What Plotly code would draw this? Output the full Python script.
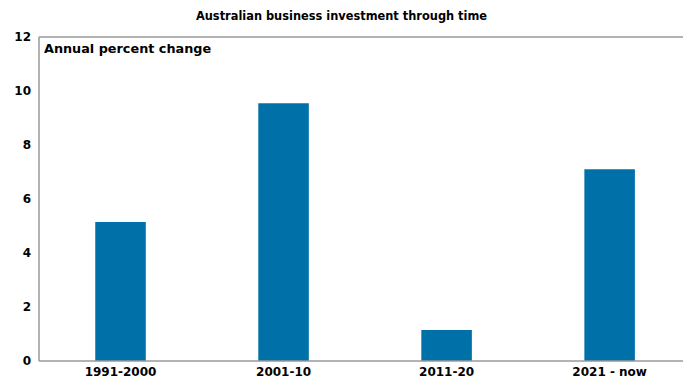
import plotly.graph_objects as go

categories = ["1991-2000", "2001-10", "2011-20", "2021 - now"]
values = [5.15, 9.55, 1.15, 7.1]
y_ticks = [0, 2, 4, 6, 8, 10, 12]

bar_color = "#0070A8"
axis_color = "#9a9a9a"
font_family = "DejaVu Sans, Verdana, sans-serif"

fig = go.Figure()
fig.add_trace(go.Bar(
    x=list(range(len(categories))),
    y=values,
    marker=dict(color=bar_color, line=dict(width=0)),
    width=0.31,
))

border = dict(color=axis_color, width=1.5)

fig.update_layout(
    width=683,
    height=380,
    margin=dict(l=39, r=0, t=37, b=19, pad=0, autoexpand=False),
    paper_bgcolor="white",
    plot_bgcolor="white",
    showlegend=False,
    title=dict(
        text="<b>Australian business investment through time</b>",
        x=0.5, xanchor="center",
        y=1 - 16 / 380, yanchor="middle",
        font=dict(family=font_family, size=11.4, color="#000"),
    ),
    font=dict(family=font_family, size=12, color="#000"),
    xaxis=dict(
        range=[-0.5, 3.45],
        tickmode="array",
        tickvals=list(range(len(categories))),
        ticktext=[f"<b>{c}</b>" for c in categories],
        showline=False, mirror=False,
        showgrid=False, zeroline=False, ticks="", ticklabelstandoff=2,
        tickfont=dict(size=12, family=font_family, color="#000"),
        fixedrange=True, automargin=False,
    ),
    yaxis=dict(
        range=[0, 12],
        tickmode="array",
        tickvals=y_ticks,
        ticktext=[f"<b>{t}</b>" for t in y_ticks],
        showline=False, mirror=False,
        showgrid=False, zeroline=False, ticks="", ticklabelstandoff=7,
        tickfont=dict(size=12, family=font_family, color="#000"),
        fixedrange=True, automargin=False,
    ),
    shapes=[
        dict(type="line", xref="paper", yref="paper", x0=0, x1=1, y0=1, y1=1, line=border),
        dict(type="line", xref="paper", yref="paper", x0=0, x1=1, y0=0, y1=0, line=border),
        dict(type="line", xref="paper", yref="paper", x0=0, x1=0, y0=0, y1=1, line=border),
    ],
    annotations=[dict(
        text="<b>Annual percent change</b>",
        xref="paper", yref="paper", x=0.004, y=0.995,
        xanchor="left", yanchor="top", showarrow=False,
        font=dict(family=font_family, size=12.8, color="#000"),
    )],
)

fig.write_html("out.html", config={"displayModeBar": False})
